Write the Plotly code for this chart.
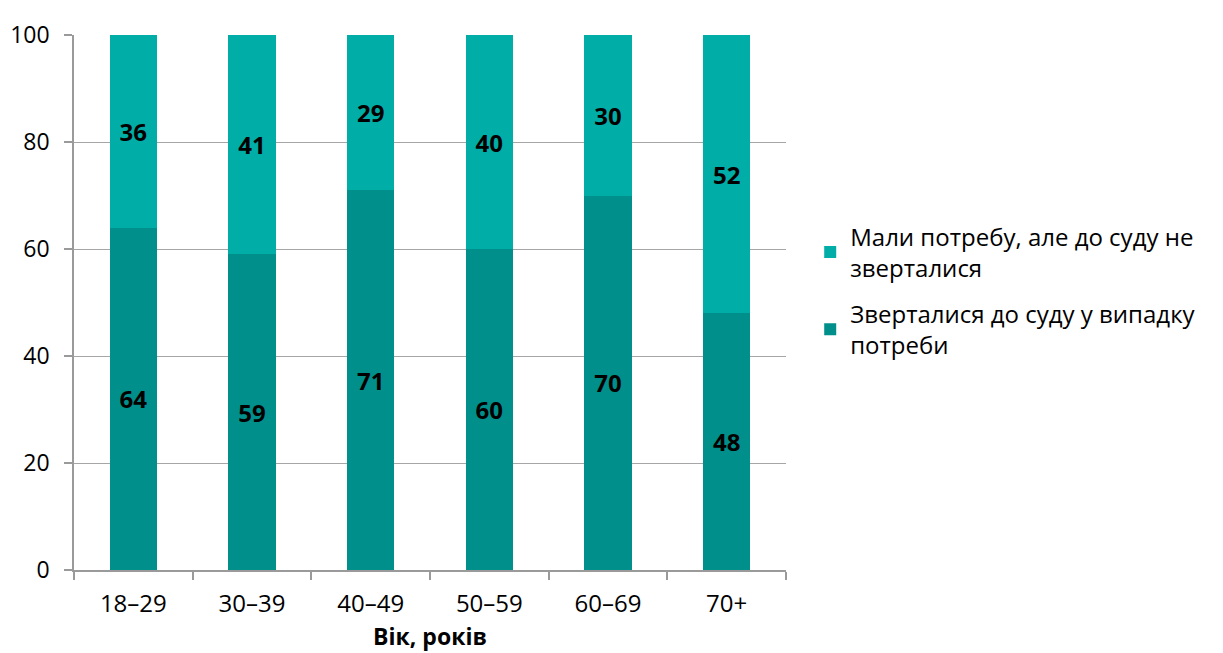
import plotly.graph_objects as go

categories = ["18–29", "30–39", "40–49", "50–59", "60–69", "70+"]
applied = [64, 59, 71, 60, 70, 48]
not_applied = [36, 41, 29, 40, 30, 52]
y_ticks = [0, 20, 40, 60, 80, 100]

name_applied = "Зверталися до суду у випадку<br>потреби"
name_not = "Мали потребу, але до суду не<br>зверталися"

FONT = "Open Sans"

fig = go.Figure()
fig.add_trace(go.Bar(
    x=categories, y=applied, name=name_applied, legendgroup="a", legendrank=2,
    marker=dict(color="#008F8A", line=dict(width=0)),
    text=applied, textposition="inside", insidetextanchor="middle",
    textfont=dict(family=FONT, size=24, color="black", weight="bold"),
    width=0.4,
))
fig.add_trace(go.Bar(
    x=categories, y=not_applied, name=name_not, legendgroup="b", legendrank=1,
    marker=dict(color="#00ADA7", line=dict(width=0)),
    text=not_applied, textposition="inside", insidetextanchor="middle",
    textfont=dict(family=FONT, size=24, color="black", weight="bold"),
    width=0.4,
))

fig.update_layout(
    barmode="stack",
    width=1223, height=653,
    margin=dict(l=66, r=445, t=27, b=91),
    plot_bgcolor="white", paper_bgcolor="white",
    font=dict(family=FONT, size=23, color="black"),
    uniformtext=dict(mode=False),
    legend=dict(
        traceorder="grouped",
        x=1.034, xanchor="left", y=0.665, yanchor="top",
        font=dict(family=FONT, size=24, color="black"),
        tracegroupgap=12,
    ),
    xaxis=dict(
        title=dict(text="<b>Вік, років</b>", font=dict(family=FONT, size=23, color="black"), standoff=11),
        showline=True, linecolor="#9a9a9a", linewidth=1.5,
        ticks="outside", tickson="boundaries", ticklen=8, tickcolor="#9a9a9a", tickwidth=1.5,
        tickfont=dict(family=FONT, size=24, color="black"),
        ticklabelstandoff=11,
        showgrid=False, automargin=False,
    ),
    yaxis=dict(
        range=[0, 100], tickvals=y_ticks,
        showline=True, linecolor="#9a9a9a", linewidth=1.5,
        ticks="outside", ticklen=8, tickcolor="#9a9a9a", tickwidth=1.5,
        ticklabelstandoff=10,
        showgrid=True, gridcolor="#a6a6a6", gridwidth=1.2,
        tickfont=dict(family=FONT, size=23, color="black"),
        zeroline=False, automargin=False,
    ),
)

fig.write_html("out.html")
